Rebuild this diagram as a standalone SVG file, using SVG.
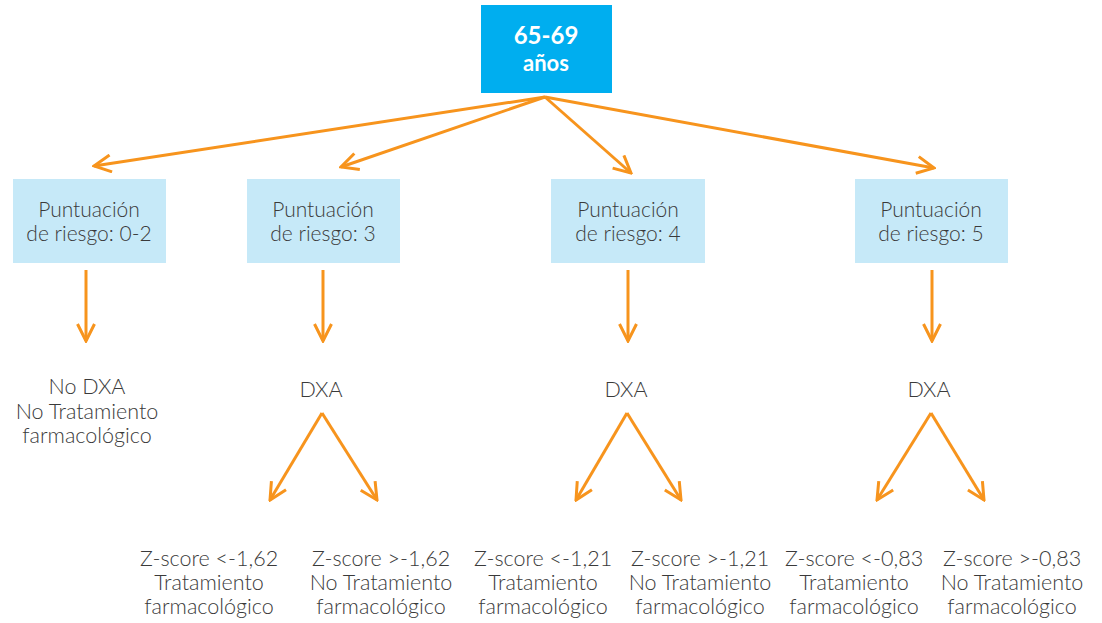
<svg xmlns="http://www.w3.org/2000/svg" width="1102" height="623" viewBox="0 0 1102 623">
<style>
.t{font-family:Lato,"Liberation Sans",sans-serif;font-weight:300;font-size:21.5px;fill:#3a3a3a;text-anchor:middle}
.b{font-size:21px}
.bx{fill:#c6e9f8}
.c{stroke:#f7941d;stroke-width:3;fill:none;marker-end:url(#ah)}
</style>
<defs>
<marker id="ah" viewBox="0 0 20 20" refX="18" refY="10" markerWidth="20" markerHeight="20" markerUnits="userSpaceOnUse" orient="auto">
<path d="M1,1.5 L18,10 L1,18.5" fill="none" stroke="#f7941d" stroke-width="3"/>
</marker>
</defs>
<rect width="1102" height="623" fill="#fff"/>
<g id="root">
<rect x="481" y="5" width="131" height="88" fill="#00aeef"/>
<text x="546" y="44" style="font-family:Lato,'Liberation Sans',sans-serif;font-weight:700;font-size:24px;fill:#fff;text-anchor:middle">65-69</text>
<text x="546" y="71" style="font-family:Lato,'Liberation Sans',sans-serif;font-weight:700;font-size:22px;fill:#fff;text-anchor:middle">años</text>
</g>
<g id="n1"><rect class="bx" x="13" y="179" width="153" height="84"/><text class="t b" x="89" y="217">Puntuación</text><text class="t b" x="89" y="241">de riesgo: 0-2</text></g>
<g id="n2"><rect class="bx" x="247" y="179" width="153" height="84"/><text class="t b" x="323" y="217">Puntuación</text><text class="t b" x="323" y="241">de riesgo: 3</text></g>
<g id="n3"><rect class="bx" x="551" y="179" width="154" height="84"/><text class="t b" x="628" y="217">Puntuación</text><text class="t b" x="628" y="241">de riesgo: 4</text></g>
<g id="n4"><rect class="bx" x="855" y="179" width="153" height="84"/><text class="t b" x="931" y="217">Puntuación</text><text class="t b" x="931" y="241">de riesgo: 5</text></g>
<g id="o1"><text class="t" x="87" y="394">No DXA</text><text class="t" x="87" y="419">No Tratamiento</text><text class="t" x="87" y="443">farmacológico</text></g>
<g id="d2"><text class="t" x="321" y="397">DXA</text></g>
<g id="d3"><text class="t" x="626" y="397">DXA</text></g>
<g id="d4"><text class="t" x="929" y="397">DXA</text></g>
<g id="z1"><text class="t" x="209" y="566">Z-score &lt;-1,62</text><text class="t" x="209" y="590">Tratamiento</text><text class="t" x="209" y="614">farmacológico</text></g>
<g id="z2"><text class="t" x="381" y="566">Z-score &gt;-1,62</text><text class="t" x="381" y="590">No Tratamiento</text><text class="t" x="381" y="614">farmacológico</text></g>
<g id="z3"><text class="t" x="543" y="566">Z-score &lt;-1,21</text><text class="t" x="543" y="590">Tratamiento</text><text class="t" x="543" y="614">farmacológico</text></g>
<g id="z4"><text class="t" x="700" y="566">Z-score &gt;-1,21</text><text class="t" x="700" y="590">No Tratamiento</text><text class="t" x="700" y="614">farmacológico</text></g>
<g id="z5"><text class="t" x="854" y="566">Z-score &lt;-0,83</text><text class="t" x="854" y="590">Tratamiento</text><text class="t" x="854" y="614">farmacológico</text></g>
<g id="z6"><text class="t" x="1012" y="566">Z-score &gt;-0,83</text><text class="t" x="1012" y="590">No Tratamiento</text><text class="t" x="1012" y="614">farmacológico</text></g>
<g id="connectors">
<line class="c" x1="545" y1="97" x2="94" y2="166"/>
<line class="c" x1="545" y1="97" x2="341" y2="167"/>
<line class="c" x1="545" y1="97" x2="631" y2="173"/>
<line class="c" x1="545" y1="97" x2="934" y2="168"/>
<line class="c" x1="86" y1="270" x2="86" y2="341"/>
<line class="c" x1="323" y1="270" x2="323" y2="341"/>
<line class="c" x1="628" y1="270" x2="628" y2="341"/>
<line class="c" x1="932" y1="270" x2="932" y2="341"/>
<line class="c" x1="322" y1="413" x2="270" y2="500"/>
<line class="c" x1="322" y1="413" x2="377" y2="500"/>
<line class="c" x1="627" y1="413" x2="576" y2="500"/>
<line class="c" x1="627" y1="413" x2="681" y2="500"/>
<line class="c" x1="931" y1="413" x2="877" y2="500"/>
<line class="c" x1="931" y1="413" x2="984" y2="500"/>
</g>
</svg>
